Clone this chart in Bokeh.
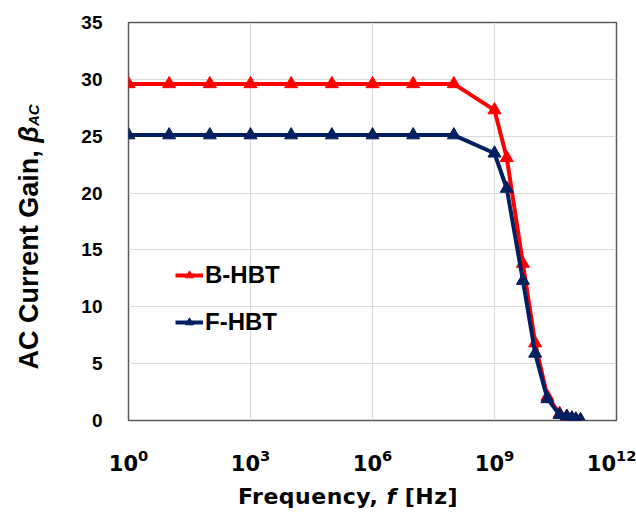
from bokeh.plotting import figure
from bokeh.models import FixedTicker, Legend, LegendItem, Div
from bokeh.layouts import row, column
from bokeh.embed import file_html
from bokeh.resources import INLINE

freq = [1e0, 1e1, 1e2, 1e3, 1e4, 1e5, 1e6, 1e7, 1e8,
        1e9, 2e9, 5e9, 1e10, 2e10, 4e10, 6e10, 8e10, 1e11, 1.3e11]
b_hbt = [29.6, 29.6, 29.6, 29.6, 29.6, 29.6, 29.6, 29.6, 29.6,
         27.3, 23.1, 13.8, 6.8, 2.1, 0.6, 0.35, 0.2, 0.1, 0.05]
f_hbt = [25.1, 25.1, 25.1, 25.1, 25.1, 25.1, 25.1, 25.1, 25.1,
         23.5, 20.4, 12.3, 5.9, 1.9, 0.5, 0.35, 0.2, 0.1, 0.05]
x_ticks = [1e0, 1e3, 1e6, 1e9, 1e12]
y_ticks = [0, 5, 10, 15, 20, 25, 30, 35]
series_names = ["B-HBT", "F-HBT"]

RED = "#FF0000"
NAVY = "#002060"

p = figure(width=576, height=485, x_axis_type="log",
           x_range=(1e0, 1e12), y_range=(0, 35),
           output_backend="svg", toolbar_location=None,
           min_border_left=68, min_border_right=20,
           min_border_top=22, min_border_bottom=65, margin=0)

p.outline_line_color = "#595959"
p.outline_line_width = 1.5

for ax in (p.xaxis, p.yaxis):
    ax.axis_line_color = None
    ax.major_tick_line_color = None
    ax.minor_tick_line_color = None
    ax.major_tick_out = 0
    ax.major_tick_in = 0
    ax.minor_tick_out = 0
    ax.minor_tick_in = 0
    ax.major_label_text_font_style = "bold"
    ax.major_label_text_color = "#000000"

p.xaxis.ticker = FixedTicker(ticks=x_ticks, minor_ticks=[])
p.yaxis.ticker = FixedTicker(ticks=y_ticks, minor_ticks=[])
p.xaxis.major_label_text_font = "DejaVu Sans"
p.xaxis.major_label_text_font_size = "21px"
p.yaxis.major_label_text_font = "Liberation Sans"
p.yaxis.major_label_text_font_size = "19px"
p.xaxis.major_label_standoff = 28
p.yaxis.major_label_standoff = 26

p.xgrid.grid_line_color = "#d9d9d9"
p.ygrid.grid_line_color = "#d9d9d9"
p.xgrid.grid_line_width = 1.2
p.ygrid.grid_line_width = 1.2

r1 = p.line(freq, b_hbt, line_color=RED, line_width=4)
m1 = p.scatter(freq, b_hbt, marker="triangle", size=13, fill_color=RED, line_color=RED)
r2 = p.line(freq, f_hbt, line_color=NAVY, line_width=4)
m2 = p.scatter(freq, f_hbt, marker="triangle", size=13, fill_color=NAVY, line_color=NAVY)

legend = Legend(items=[LegendItem(label=series_names[0], renderers=[r1, m1]),
                       LegendItem(label=series_names[1], renderers=[r2, m2])],
                location=(47, 84))
legend.background_fill_alpha = 0
legend.border_line_color = None
legend.label_text_font = "Liberation Sans"
legend.label_text_font_style = "bold"
legend.label_text_font_size = "24px"
legend.label_text_color = "#000000"
legend.glyph_width = 28
legend.spacing = 19
legend.label_standoff = 2
p.add_layout(legend)

ytitle = Div(width=60, height=515, margin=0, text=(
    '<div style="position:relative;width:60px;height:515px;">'
    '<div style="position:absolute;left:29px;top:237px;'
    'transform:translate(-50%,-50%) rotate(-90deg);white-space:nowrap;'
    "font-family:'Liberation Sans';font-weight:bold;font-size:27px;"
    'line-height:1;color:#000;">'
    'AC Current Gain, <i>&beta;</i>'
    '<span style="font-style:italic;font-size:0.55em;position:relative;top:0.1em;">AC</span>'
    '</div></div>'))

xtitle = Div(width=576, height=30, margin=0, text=(
    '<div style="position:relative;width:576px;height:30px;">'
    '<div style="position:absolute;left:288px;top:12px;'
    'transform:translate(-50%,-50%);white-space:nowrap;'
    "font-family:'DejaVu Sans';font-weight:bold;font-size:22px;letter-spacing:0.5px;"
    'line-height:1;color:#000;">'
    'Frequency, <i>f</i> [Hz]'
    '</div></div>'))

layout = row(ytitle, column(p, xtitle, spacing=0, margin=0), spacing=0, margin=0)

open("out.html", "w").write(file_html(layout, INLINE))
